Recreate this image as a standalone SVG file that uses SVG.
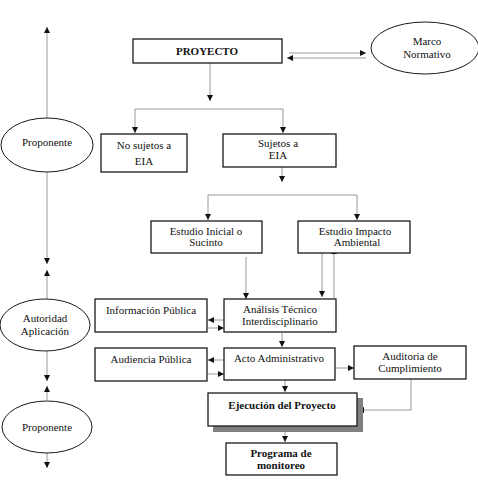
<svg xmlns="http://www.w3.org/2000/svg" width="478" height="483" viewBox="0 0 478 483">
<style>
.box{fill:#fff;stroke:#1a1a1a;stroke-width:1.3}
.el{fill:#fff;stroke:#1a1a1a;stroke-width:1}
text{font-family:'Liberation Serif','Times New Roman',Times,serif;font-size:11px;fill:#111;text-anchor:middle}
.b{font-weight:bold}
.c{fill:none;stroke:#999;stroke-width:1}
</style>
<defs>
<marker id="ah" viewBox="0 0 6 6" refX="6" refY="3" markerWidth="6" markerHeight="6" markerUnits="userSpaceOnUse" orient="auto">
<path d="M0,0 L6,3 L0,6 z" fill="#111"/>
</marker>
</defs>
<rect width="478" height="483" fill="#fff"/>
<g id="connectors">
<path class="c" d="M210,63 V101" marker-end="url(#ah)"/>
<path class="c" d="M210,109 H135 V133" marker-end="url(#ah)"/>
<path class="c" d="M210,109 H283 V133" marker-end="url(#ah)"/>
<path class="c" d="M289,53 H366" marker-end="url(#ah)"/>
<path class="c" d="M366,58 H287" marker-end="url(#ah)"/>
<path class="c" d="M282,167 V182" marker-end="url(#ah)"/>
<path class="c" d="M282,195 H208 V220" marker-end="url(#ah)"/>
<path class="c" d="M282,195 H357 V220" marker-end="url(#ah)"/>
<path class="c" d="M246,257 V299" marker-end="url(#ah)"/>
<path class="c" d="M322,247 V297" marker-end="url(#ah)"/>
<path class="c" d="M334,298 V248" marker-end="url(#ah)"/>
<path class="c" d="M224,320 H208" marker-end="url(#ah)"/>
<path class="c" d="M208,328 H224" marker-end="url(#ah)"/>
<path class="c" d="M282,333 V347" marker-end="url(#ah)"/>
<path class="c" d="M224,360 H208" marker-end="url(#ah)"/>
<path class="c" d="M208,374 H224" marker-end="url(#ah)"/>
<path class="c" d="M335,368 H354" marker-end="url(#ah)"/>
<path class="c" d="M285,380 V392" marker-end="url(#ah)"/>
<path class="c" d="M411,379 V410 H358" marker-end="url(#ah)"/>
<path class="c" d="M285,432 V442" marker-end="url(#ah)"/>
<path class="c" d="M47,118 V27" marker-end="url(#ah)"/>
<path class="c" d="M47,172 V264" marker-end="url(#ah)"/>
<path class="c" d="M47,299 V270" marker-end="url(#ah)"/>
<path class="c" d="M47,350 V381" marker-end="url(#ah)"/>
<path class="c" d="M47,400 V386" marker-end="url(#ah)"/>
<path class="c" d="M47,453 V468" marker-end="url(#ah)"/>
</g>
<g id="proyecto">
<rect class="box" x="133" y="39" width="149" height="24"/>
<text class="b" x="207" y="55">PROYECTO</text>
</g>
<g id="marco">
<ellipse class="el" cx="425" cy="48" rx="54" ry="26"/>
<text x="427" y="45">Marco</text>
<text x="427" y="58">Normativo</text>
</g>
<g id="proponente1">
<ellipse class="el" cx="47" cy="145" rx="46" ry="27"/>
<text x="47" y="146">Proponente</text>
</g>
<g id="nosujetos">
<rect class="box" x="101" y="134" width="86" height="38"/>
<text x="144" y="149">No sujetos a</text>
<text x="144" y="165">EIA</text>
</g>
<g id="sujetos">
<rect class="box" x="223" y="134" width="113" height="33"/>
<text x="278" y="147">Sujetos a</text>
<text x="278" y="159">EIA</text>
</g>
<g id="inicial">
<rect class="box" x="151" y="221" width="111" height="32"/>
<text x="206" y="235">Estudio Inicial o</text>
<text x="206" y="246">Sucinto</text>
</g>
<g id="impacto">
<rect class="box" x="298" y="221" width="112" height="32"/>
<text x="355" y="235">Estudio Impacto</text>
<text x="357" y="246">Ambiental</text>
</g>
<g id="autoridad">
<ellipse class="el" cx="45" cy="325" rx="45" ry="26"/>
<text x="45" y="322">Autoridad</text>
<text x="45" y="335">Aplicación</text>
</g>
<g id="informacion">
<rect class="box" x="95" y="299" width="112" height="33"/>
<text x="151" y="314">Información Pública</text>
</g>
<g id="analisis">
<rect class="box" x="224" y="299" width="112" height="33"/>
<text x="280" y="313">Análisis Técnico</text>
<text x="280" y="325">Interdisciplinario</text>
</g>
<g id="audiencia">
<rect class="box" x="95" y="348" width="112" height="33"/>
<text x="151" y="363">Audiencia Pública</text>
</g>
<g id="acto">
<rect class="box" x="224" y="348" width="111" height="32"/>
<text x="279" y="362">Acto Administrativo</text>
</g>
<g id="auditoria">
<rect class="box" x="354" y="346" width="112" height="33"/>
<text x="410" y="360">Auditoria de</text>
<text x="410" y="372">Cumplimiento</text>
</g>
<g id="proponente2">
<ellipse class="el" cx="47" cy="427" rx="45" ry="26"/>
<text x="47" y="431">Proponente</text>
</g>
<g id="ejecucion">
<rect x="213" y="398" width="150" height="34" fill="#808080"/>
<rect class="box" x="208" y="393" width="149" height="33"/>
<text class="b" x="282" y="409">Ejecución del Proyecto</text>
</g>
<g id="programa">
<rect class="box" x="226" y="443" width="111" height="32"/>
<text class="b" x="281" y="457">Programa de</text>
<text class="b" x="281" y="469">monitoreo</text>
</g>
</svg>
